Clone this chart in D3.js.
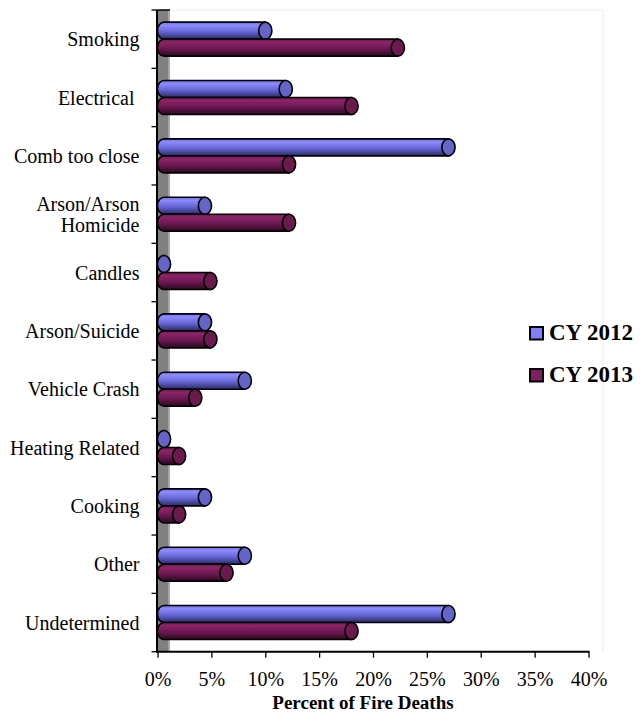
<!DOCTYPE html>
<html>
<head>
<meta charset="utf-8">
<script src="https://cdn.jsdelivr.net/npm/d3@7"></script>
<style>
  html, body { margin: 0; padding: 0; background: #fff; }
  svg { display: block; }
  text { font-family: "Liberation Serif", "Times New Roman", serif; fill: #000; }
</style>
</head>
<body>
<svg id="chart" width="640" height="713"></svg>
<script>
// Causes of fire deaths, share of total per calendar year
const categories = ["Smoking", "Electrical ", "Comb too close", "Arson/Arson Homicide", "Candles",
  "Arson/Suicide", "Vehicle Crash", "Heating Related", "Cooking", "Other", "Undetermined"];
const cy2012 = [9.4, 11.3, 26.4, 3.8, 0, 3.8, 7.5, 0, 3.8, 7.5, 26.4];
const cy2013 = [21.7, 17.4, 11.6, 11.6, 4.3, 4.3, 2.9, 1.4, 1.4, 5.8, 17.4];
const seriesNames = ["CY 2012", "CY 2013"];
const xTicks = [0, 5, 10, 15, 20, 25, 30, 35, 40];
const xTitle = "Percent of Fire Deaths";

const svg = d3.select("#chart");

const plot = { left: 158, right: 589, top: 10, bottom: 651.7 };
const depth = 12;            // side wall thickness
const barH = 17;             // height of each cylinder
const rx = 6.6, ry = barH / 2;

const x = d3.scaleLinear().domain([0, 40]).range([plot.left, plot.right]);
const y = d3.scaleBand().domain(categories).range([plot.top, plot.bottom]).paddingInner(0).paddingOuter(0);

// gradients for cylinder bodies
const defs = svg.append("defs");
const palettes = [
  { id: "g2012", stops: [[0, "#6c6ce0"], [0.18, "#8c8cff"], [0.55, "#6767d6"], [1, "#2a2a66"]], cap: "#6565c9", key: "#8080ff" },
  { id: "g2013", stops: [[0, "#6e1650"], [0.18, "#8e2468"], [0.55, "#6c1852"], [1, "#2a0820"]], cap: "#6a1a4c", key: "#7f1f5f" }
];
palettes.forEach(p => {
  const g = defs.append("linearGradient").attr("id", p.id)
    .attr("x1", 0).attr("y1", 0).attr("x2", 0).attr("y2", 1);
  p.stops.forEach(s => g.append("stop").attr("offset", s[0]).attr("stop-color", s[1]));
});

// faint plot-area frame
svg.append("path")
  .attr("d", `M${plot.left + depth},${plot.top} H603 V${plot.bottom}`)
  .attr("fill", "none").attr("stroke", "#ececec").attr("stroke-width", 1);

// gray side wall
svg.append("rect").attr("x", plot.left).attr("y", plot.top)
  .attr("width", depth).attr("height", plot.bottom - plot.top).attr("fill", "#808080");
svg.append("rect").attr("x", plot.left + depth - 2).attr("y", plot.top)
  .attr("width", 2).attr("height", plot.bottom - plot.top).attr("fill", "#a6a6a6");
svg.append("line").attr("x1", plot.left).attr("x2", plot.left + depth)
  .attr("y1", plot.top).attr("y2", plot.top).attr("stroke", "#000").attr("stroke-width", 1.5);

// bars
const series = [cy2012, cy2013];
series.forEach((vals, si) => {
  const p = palettes[si];
  const g = svg.append("g");
  const bars = g.selectAll("g.bar").data(vals.map((v, i) => ({ v, c: categories[i] })))
    .join("g").attr("class", "bar");
  bars.each(function (d) {
    const sel = d3.select(this);
    const cy = y(d.c) + y.bandwidth() / 2;
    const top = si === 0 ? cy - barH : cy;
    const bot = top + barH;
    const x0 = x(0) + depth / 2;
    const x1 = x(d.v) + depth / 2;
    sel.append("path")
      .attr("d", `M${x0},${top} L${x1},${top} L${x1},${bot} L${x0},${bot} A${rx},${ry} 0 0 1 ${x0},${top} Z`)
      .attr("fill", `url(#${p.id})`).attr("stroke", "#000").attr("stroke-width", 1.6);
    sel.append("ellipse")
      .attr("cx", x1).attr("cy", top + ry).attr("rx", rx).attr("ry", ry)
      .attr("fill", p.cap).attr("stroke", "#000").attr("stroke-width", 1.6);
  });
});

// category axis
const yAxisG = svg.append("g");
yAxisG.append("line").attr("x1", plot.left - 1).attr("x2", plot.left - 1)
  .attr("y1", plot.top).attr("y2", plot.bottom + 1).attr("stroke", "#000").attr("stroke-width", 2);
const bounds = categories.map(c => y(c)).concat([plot.bottom]);
yAxisG.selectAll("line.tick").data(bounds).join("line").attr("class", "tick")
  .attr("x1", plot.left - 6.5).attr("x2", plot.left).attr("y1", d => d).attr("y2", d => d)
  .attr("stroke", "#000").attr("stroke-width", 1.3);

const labelRight = 139.5;
const lineH = 20.7;
categories.forEach(c => {
  const cy = y(c) + y.bandwidth() / 2;
  // wrap long labels on words
  const words = c.split(" ");
  const t = svg.append("text").attr("font-size", 20).attr("text-anchor", "end")
    .attr("xml:space", "preserve").style("white-space", "pre");
  let lines = [c];
  const probe = t.text(c);
  if (probe.node().getComputedTextLength() > 140 && words.length > 1) {
    lines = [];
    let cur = "";
    words.forEach(w => {
      const test = cur ? cur + " " + w : w;
      probe.text(test);
      if (probe.node().getComputedTextLength() > 140 && cur) { lines.push(cur); cur = w; }
      else cur = test;
    });
    if (cur) lines.push(cur);
  }
  t.text(null);
  const first = cy + 7 - (lines.length - 1) * lineH / 2;
  lines.forEach((ln, i) => {
    t.append("tspan").attr("x", labelRight).attr("y", first + i * lineH).text(ln);
  });
});

// value axis
const xAxisG = svg.append("g");
xAxisG.append("line").attr("x1", plot.left - 2).attr("x2", plot.right + 0.5)
  .attr("y1", plot.bottom).attr("y2", plot.bottom).attr("stroke", "#000").attr("stroke-width", 2);
xAxisG.selectAll("line.tick").data(xTicks).join("line").attr("class", "tick")
  .attr("x1", d => x(d)).attr("x2", d => x(d)).attr("y1", plot.bottom).attr("y2", plot.bottom + 6)
  .attr("stroke", "#000").attr("stroke-width", 1.3);
xAxisG.selectAll("text").data(xTicks).join("text")
  .attr("x", d => x(d)).attr("y", 686).attr("text-anchor", "middle").attr("font-size", 20)
  .text(d => d + "%");

svg.append("text").attr("x", 363).attr("y", 709).attr("text-anchor", "middle")
  .attr("font-size", 19).attr("font-weight", "bold").text(xTitle);

// legend
const legend = svg.append("g");
seriesNames.forEach((name, i) => {
  const ly = 339.5 + i * 42;
  legend.append("rect").attr("x", 530).attr("y", ly - 12.5).attr("width", 13).attr("height", 12.5)
    .attr("fill", palettes[i].key).attr("stroke", "#000").attr("stroke-width", 2);
  legend.append("text").attr("x", 549).attr("y", ly).attr("font-size", 23)
    .attr("font-weight", "bold").text(name);
});
</script>
</body>
</html>
